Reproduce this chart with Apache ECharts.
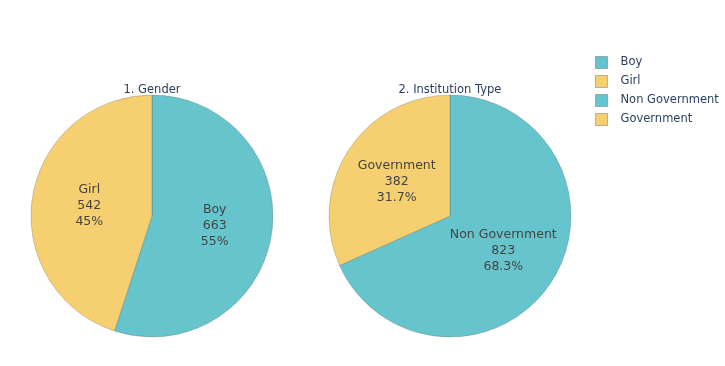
<!DOCTYPE html>
<html>
<head>
<meta charset="utf-8">
<script src="https://cdn.jsdelivr.net/npm/echarts@6/dist/echarts.min.js"></script>
<style>html,body{margin:0;padding:0;background:#fff;}#c{width:725px;height:366px;}</style>
</head>
<body>
<div id="c"></div>
<script>
const genderNames = ['Boy', 'Girl'];
const genderValues = [663, 542];
const instNames = ['Non Government', 'Government'];
const instValues = [823, 382];
const titles = ['1. Gender', '2. Institution Type'];
const colors = ['#66C5CC', '#F6CF71'];

const chart = echarts.init(document.getElementById('c'), null, {renderer: 'canvas'});
const font = "'DejaVu Sans', Verdana, sans-serif";

function fmt(p) {
  const pct = parseFloat(p.percent.toPrecision(3));
  return p.name + '\n' + p.value + '\n' + pct + '%';
}
function mk(names, values, center) {
  return {
    type: 'pie',
    center: center,
    radius: 121,
    startAngle: 90,
    clockwise: true,
    percentPrecision: 4,
    animation: false,
    avoidLabelOverlap: false,
    data: names.map((n, i) => ({name: n, value: values[i], itemStyle: {color: colors[i]}})),
    itemStyle: {borderColor: 'rgba(68,68,68,0.35)', borderWidth: 0.7},
    label: {position: 'inside', formatter: fmt, color: '#444', fontFamily: font, fontSize: 12.5, lineHeight: 16},
    labelLine: {show: false},
    emphasis: {disabled: true}
  };
}

chart.setOption({
  animation: false,
  title: [
    {text: titles[0], left: 152, top: 84, padding: 0, textAlign: 'center', textStyle: {fontFamily: font, fontSize: 11.5, fontWeight: 'normal', color: '#2a3f5f'}},
    {text: titles[1], left: 450, top: 84, padding: 0, textAlign: 'center', textStyle: {fontFamily: font, fontSize: 11.5, fontWeight: 'normal', color: '#2a3f5f'}}
  ],
  legend: {
    orient: 'vertical', left: 595, top: 56, padding: 0,
    itemWidth: 12, itemHeight: 12, itemGap: 6,
    icon: 'rect',
    data: genderNames.concat(instNames),
    itemStyle: {borderColor: 'rgba(68,68,68,0.35)', borderWidth: 1},
    textStyle: {fontFamily: font, fontSize: 11.5, lineHeight: 12, color: '#2a3f5f', padding: [0, 0, 0, 8]},
    selectedMode: false
  },
  series: [mk(genderNames, genderValues, [152, 216]), mk(instNames, instValues, [450, 216])]
});
</script>
</body>
</html>
